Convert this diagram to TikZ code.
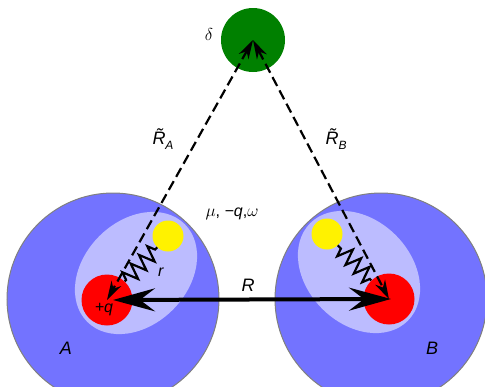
\documentclass[tikz,border=0pt]{standalone}
\usepackage{amsmath,amssymb}
\usepackage{fontspec}
\setmainfont{Liberation Sans}
\usetikzlibrary{calc,arrows.meta,decorations.pathmorphing}

\definecolor{atomblue}{RGB}{115,115,255}
\definecolor{cloudblue}{RGB}{188,188,255}
\definecolor{darkgreen}{RGB}{0,128,0}

\tikzset{
  ball/.style={circle, inner sep=0pt, minimum size=#1},
  link/.style={line width=2.2pt, dash pattern=on 10pt off 5pt,
    {Stealth[length=19pt,width=11pt,inset=6pt]}-{Stealth[length=19pt,width=11pt,inset=6pt]}},
  spring/.style={line width=2.2pt, decorate,
    decoration={zigzag, amplitude=8pt, segment length=12pt, pre length=2pt, post length=2pt}},
  lbl/.style={font=\fontsize{18}{21}\selectfont},
  sml/.style={font=\fontsize{16}{19}\selectfont},
}

\begin{document}
\begin{tikzpicture}[x=1pt,y=-1pt]
  \useasboundingbox (0,0) rectangle (485,386);
  \clip (0,0) rectangle (485,386);

  % atoms
  \filldraw[fill=atomblue, draw=gray, line width=1pt] (113,299) circle (106);
  \filldraw[fill=atomblue, draw=gray, line width=1pt] (381,299) circle (106);
  \fill[cloudblue, rotate around={45:(136,273)}] (136,273) ellipse (69 and 52);
  \fill[cloudblue, rotate around={-45:(359,272)}] (359,272) ellipse (69 and 52);

  \node[ball=64pt, fill=darkgreen] (delta) at (253,40) {};
  \node[ball=51pt, fill=red] (qA) at (107,300) {};
  \node[ball=51pt, fill=red] (qB) at (389,299) {};
  \node[ball=31pt, fill=yellow] (muA) at (168,236) {};
  \node[ball=31pt, fill=yellow] (muB) at (327,234) {};

  \draw[spring] (qA) -- (muA);
  \draw[spring] (qB) -- (muB);

  \draw[link] (delta.center) -- (qA.center);
  \draw[link] (delta.center) -- (qB.center);
  \draw[line width=4pt, shorten <=6pt, shorten >=-2pt,
    {Stealth[length=42pt,width=23pt,inset=15pt]}-{Stealth[length=42pt,width=23pt,inset=15pt]}]
    (qA.center) -- (qB.center);

  % labels
  \node[sml] at (209,34) {$\delta$};
  \node[lbl] at (163,139) {\textit{\~{R}}\raisebox{-0.3em}{\fontsize{12}{14}\selectfont\textit{A}}};
  \node[lbl] at (336,139) {\textit{\~{R}}\raisebox{-0.3em}{\fontsize{12}{14}\selectfont\textit{B}}};
  \node[sml] at (232,214) {$\mu$, \textit{−q},$\omega$};
  \node[lbl] at (248,285) {\textit{R}};
  \node[sml] at (104,310) {\textit{+q}};
  \node[sml] at (161,272) {\textit{r}};
  \node[lbl] at (66,348) {\textit{A}};
  \node[lbl] at (432,348) {\textit{B}};
\end{tikzpicture}
\end{document}
